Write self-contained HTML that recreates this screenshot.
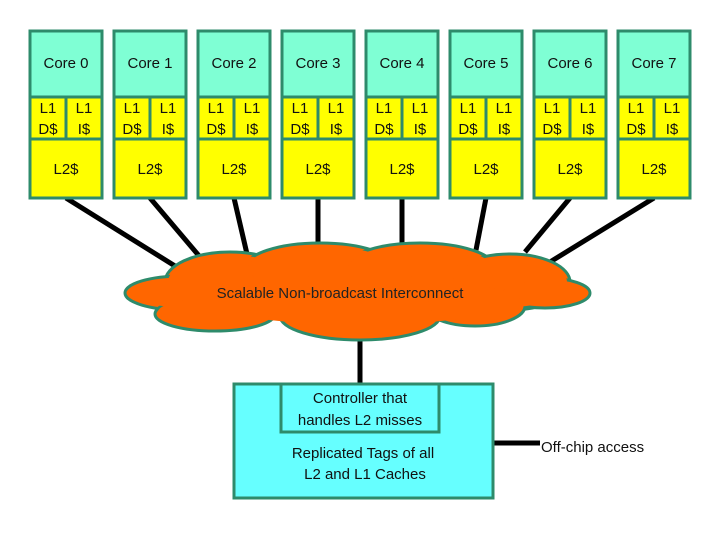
<!DOCTYPE html>
<html><head><style>
body{margin:0;background:#fff;width:720px;height:540px;overflow:hidden;font-family:"Liberation Sans",sans-serif}
svg text{font-family:"Liberation Sans",sans-serif}
</style></head><body>
<svg width="720" height="540" viewBox="0 0 720 540">
<g stroke="#000" stroke-width="5">
<line x1="66" y1="198" x2="175" y2="266"/>
<line x1="150" y1="198" x2="200" y2="257"/>
<line x1="234" y1="198" x2="247" y2="254"/>
<line x1="318" y1="198" x2="318" y2="248"/>
<line x1="402" y1="198" x2="402" y2="248"/>
<line x1="486" y1="198" x2="476" y2="250"/>
<line x1="570" y1="198" x2="525" y2="252"/>
<line x1="654" y1="198" x2="550" y2="262"/>
<line x1="360" y1="335" x2="360" y2="386"/>
<line x1="493" y1="443" x2="540" y2="443"/>
</g>
<g fill="#ff6600" stroke="#2e8b6b" stroke-width="3">
<ellipse cx="230" cy="282" rx="65" ry="30"/>
<ellipse cx="320" cy="268" rx="75" ry="25"/>
<ellipse cx="420" cy="268" rx="75" ry="25"/>
<ellipse cx="510" cy="282" rx="60" ry="28"/>
<ellipse cx="182" cy="293" rx="57" ry="17"/>
<ellipse cx="545" cy="293" rx="45" ry="15"/>
<ellipse cx="215" cy="314" rx="60" ry="17"/>
<ellipse cx="360" cy="316" rx="80" ry="24"/>
<ellipse cx="475" cy="306" rx="50" ry="20"/>
</g>
<g fill="#ff6600">
<ellipse cx="230" cy="282" rx="62" ry="27"/>
<ellipse cx="320" cy="268" rx="72" ry="22"/>
<ellipse cx="420" cy="268" rx="72" ry="22"/>
<ellipse cx="510" cy="282" rx="57" ry="25"/>
<ellipse cx="182" cy="293" rx="54" ry="14"/>
<ellipse cx="545" cy="293" rx="42" ry="12"/>
<ellipse cx="360" cy="300" rx="150" ry="25"/>
<ellipse cx="215" cy="312" rx="57" ry="14"/>
<ellipse cx="475" cy="304" rx="47" ry="17"/>
</g>
<text x="340" y="298" font-size="15" text-anchor="middle" fill="#222">Scalable Non-broadcast Interconnect</text>
<rect x="234" y="384" width="259" height="114" fill="#66ffff" stroke="#2e8b6b" stroke-width="3"/>
<rect x="281" y="384" width="158" height="48" fill="#66ffff" stroke="#2e8b6b" stroke-width="3"/>
<g font-size="15" text-anchor="middle" fill="#111">
<text x="360" y="403">Controller that</text>
<text x="360" y="425">handles L2 misses</text>
<text x="363" y="458">Replicated Tags of all</text>
<text x="365" y="479">L2 and L1 Caches</text>
</g>
<text x="541" y="452" font-size="15" fill="#111">Off-chip access</text>
<g id="tiles" stroke="#2e8b6b" stroke-width="3" font-size="15" fill="#111"></g>
</svg>
<script>
var g=document.getElementById('tiles'),h='';
for(var i=0;i<8;i++){var x=30+84*i,w=72;
h+='<rect x="'+x+'" y="31" width="'+w+'" height="66" fill="#7fffd4"/>';
h+='<rect x="'+x+'" y="97" width="'+(w/2)+'" height="42" fill="#ffff00"/>';
h+='<rect x="'+(x+w/2)+'" y="97" width="'+(w/2)+'" height="42" fill="#ffff00"/>';
h+='<rect x="'+x+'" y="139" width="'+w+'" height="59" fill="#ffff00"/>';
h+='<text stroke="none" text-anchor="middle" x="'+(x+w/2)+'" y="68">Core '+i+'</text>';
h+='<text stroke="none" text-anchor="middle" x="'+(x+w/4)+'" y="113">L1</text>';
h+='<text stroke="none" text-anchor="middle" x="'+(x+w/4)+'" y="134">D$</text>';
h+='<text stroke="none" text-anchor="middle" x="'+(x+3*w/4)+'" y="113">L1</text>';
h+='<text stroke="none" text-anchor="middle" x="'+(x+3*w/4)+'" y="134">I$</text>';
h+='<text stroke="none" text-anchor="middle" x="'+(x+w/2)+'" y="174">L2$</text>';}
g.innerHTML=h;
</script>
</body></html>
